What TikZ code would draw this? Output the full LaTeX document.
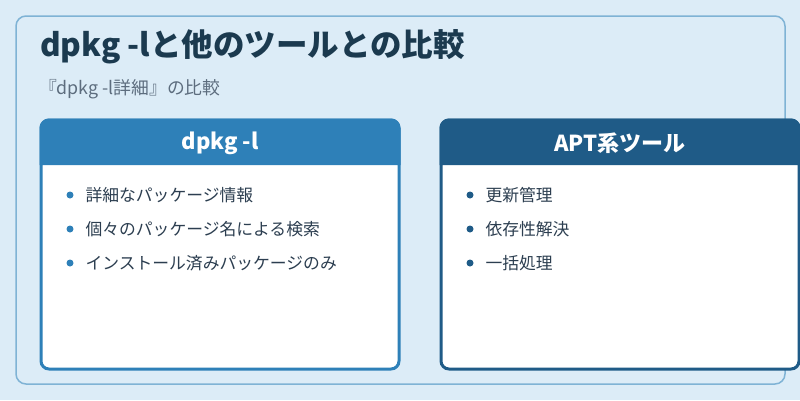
\documentclass[tikz,border=0pt]{standalone}
\usepackage{fontspec}
\setmainfont{Noto Sans CJK JP}
\usetikzlibrary{positioning}
\definecolor{bgblue}{HTML}{DCECF7}
\definecolor{frameblue}{HTML}{7FB3D5}
\definecolor{dpkgblue}{HTML}{2E80B8}
\definecolor{aptblue}{HTML}{1F5B87}
\definecolor{titleink}{HTML}{1B3A4F}
\definecolor{subink}{HTML}{5D6D7E}
\definecolor{itemink}{HTML}{2C3E50}

\begin{document}
\begin{tikzpicture}[
    x=1pt, y=-1pt,
    every node/.style={inner sep=0pt, outer sep=0pt},
    frame/.style={draw=frameblue, line width=1.5pt, fill=bgblue, rounded corners=10pt},
    card/.style={draw=#1, line width=3pt, fill=white, rounded corners=8pt,
                 minimum width=358pt, minimum height=249pt},
    headtext/.style={text=white, font=\fontsize{22}{26}\selectfont\bfseries},
    item/.style={anchor=west, text=itemink, font=\fontsize{16.8}{20}\selectfont},
    dot/.style={circle, fill=#1, minimum size=7pt}
]
% background and outer frame
\fill[bgblue] (0,0) rectangle (800,400);
\useasboundingbox (0,0) rectangle (800,400);
\draw[frame] (16,16) rectangle (785,384);

% title
\node[anchor=base west, text=titleink, font=\fontsize{31.5}{36}\selectfont\bfseries]
    (title) at (40,56) {dpkg -lと他のツールとの比較};
\node[anchor=base west, text=subink, font=\fontsize{17.8}{21}\selectfont]
    (subtitle) at (39,94) {『dpkg -l詳細』の比較};

% dpkg -l card
\node[card=dpkgblue] (dpkgcard) at (220,244.5) {};
\fill[dpkgblue, rounded corners=8pt] (41,165) -- (41,120) -- (399,120) [sharp corners] -- (399,165) -- cycle;
\draw[dpkgblue, line width=3pt, rounded corners=8pt] (41,165) -- (41,120) -- (399,120) -- (399,165);
\node[headtext] (dpkghead) at (220,143) {dpkg -l};

\node[dot=dpkgblue] (d1) at (70,195) {};
\node[item, right=12pt of d1] (t1) {詳細なパッケージ情報};
\node[dot=dpkgblue] (d2) at (70,229) {};
\node[item, right=12pt of d2] (t2) {個々のパッケージ名による検索};
\node[dot=dpkgblue] (d3) at (70,263) {};
\node[item, right=12pt of d3] (t3) {インストール済みパッケージのみ};

% APT card
\node[card=aptblue] (aptcard) at (620,244.5) {};
\fill[aptblue, rounded corners=8pt] (441,165) -- (441,120) -- (799,120) [sharp corners] -- (799,165) -- cycle;
\draw[aptblue, line width=3pt, rounded corners=8pt] (441,165) -- (441,120) -- (799,120) -- (799,165);
\node[headtext] (apthead) at (620,143) {APT系ツール};

\node[dot=aptblue] (a1) at (470,195) {};
\node[item, right=12pt of a1] (u1) {更新管理};
\node[dot=aptblue] (a2) at (470,229) {};
\node[item, right=12pt of a2] (u2) {依存性解決};
\node[dot=aptblue] (a3) at (470,263) {};
\node[item, right=12pt of a3] (u3) {一括処理};
\end{tikzpicture}
\end{document}
